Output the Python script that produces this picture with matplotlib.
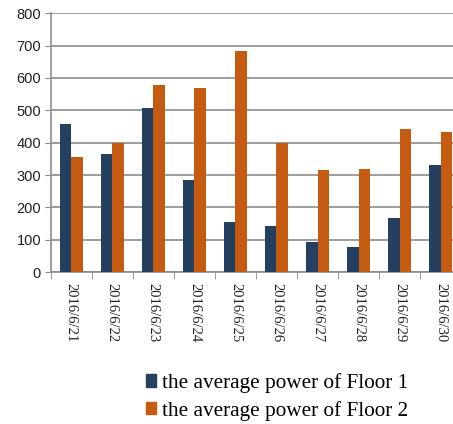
import numpy as np
import matplotlib.pyplot as plt
from matplotlib.patches import Patch

# data
dates = ['2016/6/21', '2016/6/22', '2016/6/23', '2016/6/24', '2016/6/25',
         '2016/6/26', '2016/6/27', '2016/6/28', '2016/6/29', '2016/6/30']
floor1 = [458, 365, 507, 285, 156, 144, 92, 79, 166, 330]
floor2 = [356, 398, 577, 568, 684, 398, 317, 320, 443, 433]
labels = ['the average power of Floor 1', 'the average power of Floor 2']

c1 = '#243f60'
c2 = '#c55a11'
grid_c = '#8c8c8c'

fig = plt.figure(figsize=(4.53, 4.24), dpi=100, facecolor='white')
ax = fig.add_axes([0.112, 0.358, 0.906, 0.611])

x = np.arange(len(dates))
w = 0.285
ax.bar(x - w/2, floor1, w, color=c1, zorder=3)
ax.bar(x + w/2, floor2, w, color=c2, zorder=3)

ax.set_xlim(-0.5, len(dates) - 0.5)
ax.set_ylim(0, 800)
ax.set_yticks(np.arange(0, 801, 100))
ax.yaxis.grid(True, color=grid_c, linewidth=1.2, zorder=0)
ax.tick_params(axis='y', length=4, color=grid_c, labelsize=10.5,
               labelcolor='#222222', pad=3)
for lab in ax.get_yticklabels():
    lab.set_family('Liberation Sans')

# date labels at centres, tick marks at category boundaries
ax.set_xticks(x)
ax.set_xticklabels(dates, rotation=270, family='Liberation Serif',
                   fontsize=10.5, color='#222222')
ax.tick_params(axis='x', which='major', length=0, pad=8)
ax.set_xticks(np.arange(-0.5, len(dates)), minor=True)
ax.tick_params(axis='x', which='minor', length=5, color=grid_c)

for s in ['top', 'right']:
    ax.spines[s].set_visible(False)
ax.spines['left'].set_color(grid_c)
ax.spines['bottom'].set_color(grid_c)
ax.spines['left'].set_linewidth(1.2)
ax.spines['bottom'].set_linewidth(1.2)

handles = [Patch(color=c1), Patch(color=c2)]
fig.legend(handles, labels, loc='upper left', bbox_to_anchor=(0.322, 0.12),
           frameon=False, prop={'family': 'Liberation Serif', 'size': 15.3},
           handlelength=0.5, handleheight=0.5, handletextpad=0.25,
           labelspacing=0.36, borderpad=0, borderaxespad=0)

fig.savefig('out.png', dpi=100)
